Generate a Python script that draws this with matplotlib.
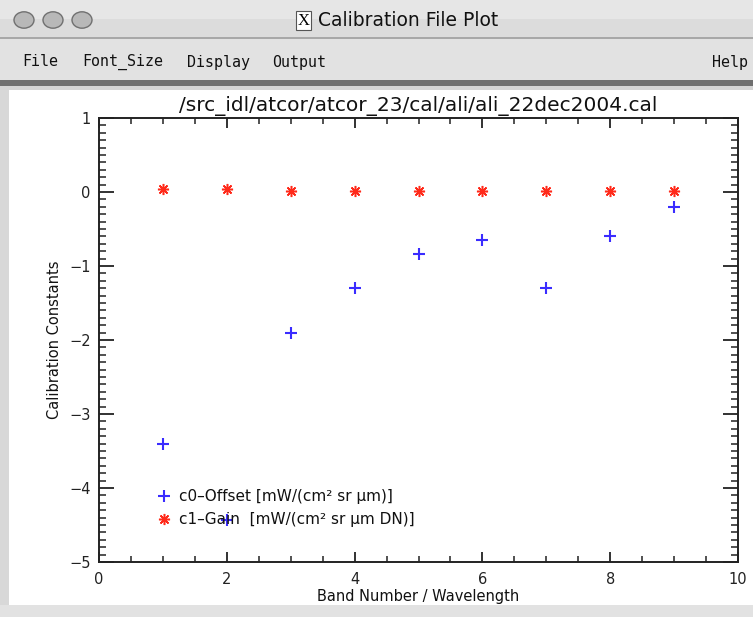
import matplotlib
matplotlib.use("Agg")
import matplotlib.pyplot as plt
from matplotlib.patches import Rectangle, Circle
from matplotlib.ticker import MultipleLocator

# ---- data ----
bands = [1, 2, 3, 4, 5, 6, 7, 8, 9]
c0_offset = [-3.41, -4.43, -1.90, -1.30, -0.84, -0.65, -1.30, -0.60, -0.20]
c1_gain = [0.04, 0.04, 0.02, 0.02, 0.02, 0.01, 0.01, 0.01, 0.01]
plot_title = "/src_idl/atcor/atcor_23/cal/ali/ali_22dec2004.cal"
window_title = "Calibration File Plot"
menu_items = ["File", "Font_Size", "Display", "Output"]
label_c0 = "c0\u2013Offset [mW/(cm\u00b2 sr \u03bcm)]"
label_c1 = "c1\u2013Gain  [mW/(cm\u00b2 sr \u03bcm DN)]"

W, H = 753, 617
fig = plt.figure(figsize=(W / 100, H / 100), dpi=100)
fig.patch.set_facecolor("white")


def px(x, y):
    return x / W, 1 - y / H


def rect(x0, y0, x1, y1, color, z=0):
    fig.patches.append(Rectangle((x0 / W, 1 - y1 / H), (x1 - x0) / W, (y1 - y0) / H,
                                 transform=fig.transFigure, facecolor=color,
                                 edgecolor="none", zorder=z))


# window chrome
rect(0, 0, W, 38, "#dcdcdc")
rect(0, 0, W, 19, "#e6e6e6")
rect(0, 37, W, 39, "#a8a8a8")
rect(0, 39, W, 80, "#e2e2e2")
rect(0, 80, W, 86, "#6f6f6f")
rect(0, 86, W, 90, "#d4d4d4")
rect(0, 90, 9, H, "#d8d8d8")
rect(0, 605, W, H, "#e2e2e2")

for cx in (24, 53, 82):
    fig.patches.append(Circle(px(cx, 20), 10 / W, transform=fig.transFigure,
                              facecolor="#b8b8b8", edgecolor="#707070", lw=1.0))

# X icon
fig.patches.append(Rectangle((296 / W, 1 - 30 / H), 15 / W, 19 / H, transform=fig.transFigure,
                             facecolor="white", edgecolor="#555555", lw=0.8))
fig.text(*px(303.5, 21), "X", ha="center", va="center", fontsize=12, family="Liberation Serif")
fig.text(*px(318, 21), window_title, ha="left", va="center", fontsize=13.5,
         family="DejaVu Sans", color="#111111")

menu_x = [22, 82, 187, 272]
for mx, item in zip(menu_x, menu_items):
    fig.text(*px(mx, 62), item, ha="left", va="center", fontsize=10.8,
             family="DejaVu Sans Mono", color="#111111")
fig.text(*px(748, 62), "Help", ha="right", va="center", fontsize=10.8,
         family="DejaVu Sans Mono", color="#111111")

# ---- plot ----
ax_l, ax_r, ax_t, ax_b = 99, 738, 118, 562
ax = fig.add_axes([ax_l / W, 1 - ax_b / H, (ax_r - ax_l) / W, (ax_b - ax_t) / H])
ax.set_xlim(0, 10)
ax.set_ylim(-5, 1)

ax.plot(bands, c0_offset, linestyle="none", marker="+", color="#3a2cff",
        markersize=9, markeredgewidth=1.5, label=label_c0, clip_on=False)
ax.plot(bands, c1_gain, linestyle="none", marker=(8, 2, 0), color="#ff2a1a",
        markersize=8, markeredgewidth=1.1, label=label_c1, clip_on=False)

for s in ax.spines.values():
    s.set_linewidth(1.4)
    s.set_color("#222222")

ax.xaxis.set_major_locator(MultipleLocator(2))
ax.xaxis.set_minor_locator(MultipleLocator(0.5))
ax.yaxis.set_major_locator(MultipleLocator(1))
ax.yaxis.set_minor_locator(MultipleLocator(0.1))
ax.tick_params(axis="x", which="both", direction="in", top=True, bottom=True,
               labelsize=10.5, pad=7, colors="#222222")
ax.tick_params(axis="x", which="major", length=7, width=1.3)
ax.tick_params(axis="x", which="minor", length=4, width=1.1)
ax.tick_params(axis="y", which="both", direction="in", left=True, right=True,
               labelsize=10.5, pad=6, colors="#222222")
ax.tick_params(axis="y", which="major", length=11, width=1.3)
ax.tick_params(axis="y", which="minor", length=5, width=1.1)

ax.set_title(plot_title, fontsize=14.5, pad=5, color="#111111")
ax.set_xlabel("Band Number / Wavelength", fontsize=10.5, labelpad=2, color="#111111")
ax.set_ylabel("Calibration Constants", fontsize=10.5, labelpad=5, color="#111111")

leg = ax.legend(loc="center left", bbox_to_anchor=(0.091, 0.121), frameon=False,
                fontsize=11, handlelength=0.9, handletextpad=0.55, labelspacing=0.55,
                borderpad=0, borderaxespad=0)
for t in leg.get_texts():
    t.set_color("#111111")

fig.savefig("out.png", dpi=100)
